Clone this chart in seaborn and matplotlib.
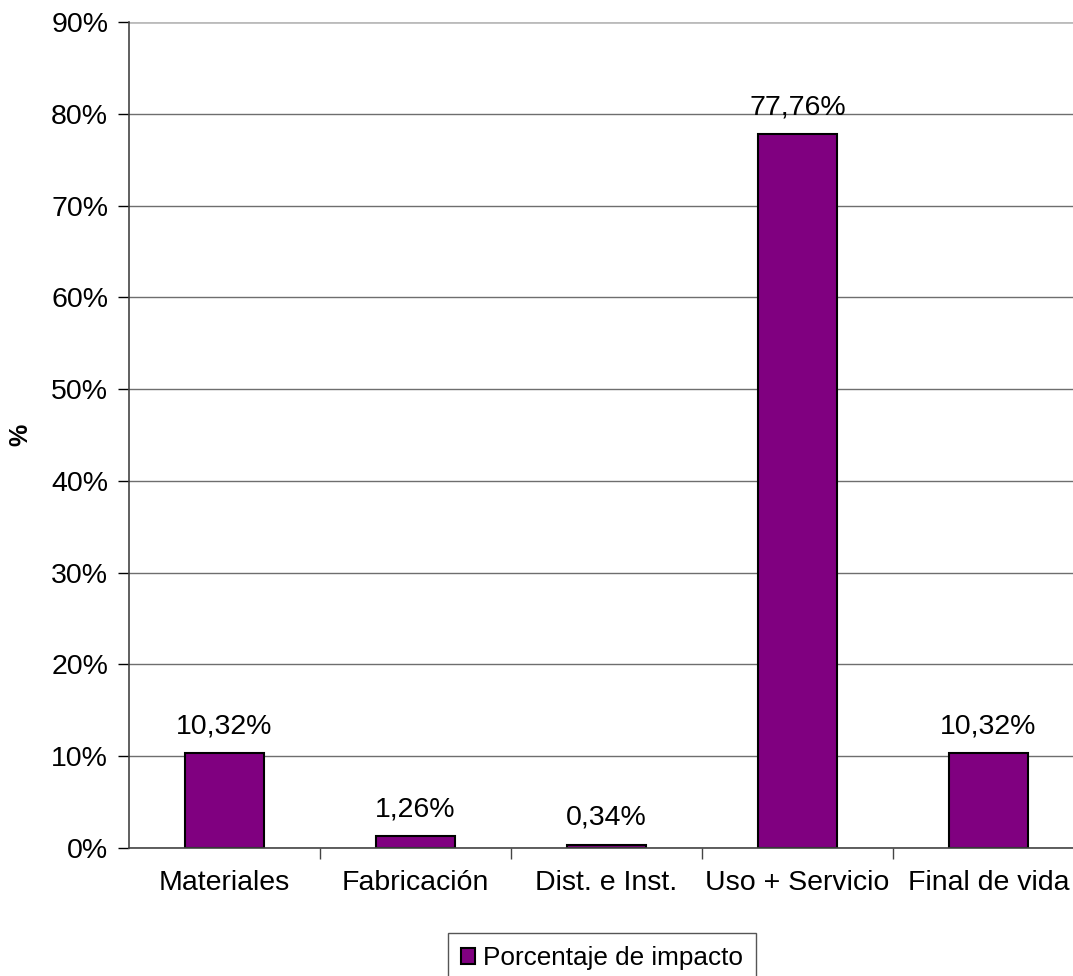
import matplotlib
matplotlib.use("Agg")
import matplotlib.pyplot as plt
import seaborn as sns
from matplotlib.ticker import FixedLocator, FuncFormatter

categories = ["Materiales", "Fabricación", "Dist. e Inst.", "Uso + Servicio", "Final de vida"]
values = [10.32, 1.26, 0.34, 77.76, 10.32]
series_name = "Porcentaje de impacto"
y_ticks = [0, 10, 20, 30, 40, 50, 60, 70, 80, 90]

sns.set_style("white")
plt.rcParams["font.family"] = ["Liberation Sans", "DejaVu Sans"]
plt.rcParams["text.color"] = "black"

fig = plt.figure(figsize=(10.73, 9.76), dpi=100)
ax = fig.add_axes([129 / 1073, 1 - 848 / 976, 955 / 1073, (848 - 22) / 976])

sns.barplot(x=categories, y=values, color="#800080", edgecolor="black",
            linewidth=1.5, width=0.41, saturation=1, label=series_name, ax=ax)
if ax.get_legend() is not None:
    ax.get_legend().remove()

ax.set_xlim(-0.5, len(categories) - 0.5)
ax.set_ylim(0, 90)
ax.set_yticks(y_ticks)
ax.yaxis.set_major_formatter(FuncFormatter(lambda v, p: f"{v:.0f}%"))
ax.tick_params(axis="y", labelsize=20.5, length=8, width=1, direction="out",
               left=True, pad=7, colors="black")
ax.tick_params(axis="x", which="major", labelsize=20.5, length=0, pad=16, labelcolor="black")
ax.xaxis.set_minor_locator(FixedLocator([i + 0.5 for i in range(len(categories) - 1)]))
ax.tick_params(axis="x", which="minor", length=8, width=1, bottom=True, color="#444444")

ax.set_axisbelow(True)
ax.yaxis.grid(True, color="#6e6e6e", linewidth=1)
ax.get_ygridlines()[-1].set_color("#bbbbbb")
ax.get_ygridlines()[-1].set_linewidth(2)

for s in ["top", "right"]:
    ax.spines[s].set_visible(False)
for s in ["left", "bottom"]:
    ax.spines[s].set_color("#444444")
    ax.spines[s].set_linewidth(1.2)

# y label: bold "%" close to the left edge
ax.set_xlabel("")
ax.set_ylabel("%", fontsize=18, fontweight="bold", color="black")
ax.yaxis.set_label_coords(-97 / 955, 0.5)

for i, v in enumerate(values):
    ax.annotate(f"{v:.2f}".replace(".", ",") + "%", (i, v), xytext=(0, 10),
                textcoords="offset points", ha="center", va="bottom",
                fontsize=20.5, color="black")

fig.legend(handles=ax.patches[:1], labels=[series_name], loc="upper center",
           bbox_to_anchor=(602 / 1073, 1 - 933 / 976), fontsize=18.8, frameon=True,
           fancybox=False, edgecolor="#555555", handlelength=0.55, handleheight=0.55,
           handletextpad=0.3, borderpad=0.5, borderaxespad=0, framealpha=1)

fig.savefig("out.png", dpi=100)
